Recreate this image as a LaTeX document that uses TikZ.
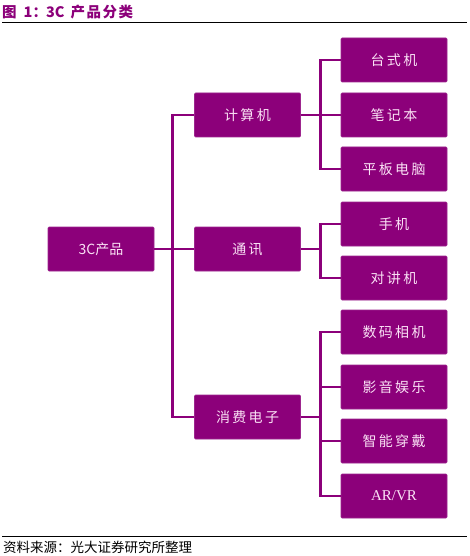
\documentclass[tikz,border=0pt]{standalone}
\usepackage{fontspec}
\setmainfont{Liberation Serif}
\newfontfamily\cjk{Noto Sans CJK SC}
\definecolor{gdpurple}{RGB}{140,0,122}
\definecolor{boxtext}{RGB}{250,225,245}
\begin{document}
\begin{tikzpicture}[x=1pt,y=-1pt,
  box/.style={draw=gdpurple!85,fill=gdpurple,line width=0.6pt,rounded corners=1pt,
    minimum width=106pt,minimum height=44pt,inner sep=0pt,
    text=boxtext,font=\cjk\fontsize{14}{16}\selectfont},
  conn/.style={draw=gdpurple,line width=2.6pt}]
\useasboundingbox[fill=white] (0,0) rectangle (469,556);
% title
\node[anchor=west,text=gdpurple,font=\cjk\bfseries\fontsize{14.5}{16}\selectfont,inner sep=0pt] (title) at (2,12) {图\hspace{7pt}1：\hspace{-1pt}3C\hspace{6pt}产\hspace{1.5pt}品\hspace{1.5pt}分\hspace{1.5pt}类};
\draw[line width=1pt] (2,23) -- (467,23);
% boxes
\node[box] (root) at (101,249) {3C产品};
\node[box] (m1) at (247.5,115) {计\,算\,机};
\node[box] (m2) at (247.5,249) {通\,讯};
\node[box] (m3) at (247.5,417) {消\,费\,电\,子};
\node[box] (l1) at (394,60) {台\,式\,机};
\node[box] (l2) at (394,115) {笔\,记\,本};
\node[box] (l3) at (394,169) {平\,板\,电\,脑};
\node[box] (l4) at (394,224) {手\,机};
\node[box] (l5) at (394,278) {对\,讲\,机};
\node[box] (l6) at (394,332) {数\,码\,相\,机};
\node[box] (l7) at (394,387) {影\,音\,娱\,乐};
\node[box] (l8) at (394,441) {智\,能\,穿\,戴};
\node[box,font=\fontsize{15}{17}\selectfont] (l9) at (394,496) {AR/VR};
% connectors level 1
\draw[conn] (root.east) -- (m2.west);
\draw[conn] (m1.west) -- ++(-22,0) |- (m3.west);
% connectors level 2
\draw[conn] (m1.east) -- (l2.west);
\draw[conn] (l1.west) -- ++(-20,0) |- (l3.west);
\draw[conn] (m2.east) -- ++(20,0) coordinate (j2);
\draw[conn] (l4.west) -- ++(-20,0) |- (l5.west);
\draw[conn] (m3.east) -- ++(20,0) coordinate (j3);
\draw[conn] (l6.west) -- ++(-20,0) |- (l9.west);
\draw[conn] (l7.west) -- ++(-20,0);
\draw[conn] (l8.west) -- ++(-20,0);
% source
\draw[line width=1pt] (2,536) -- (467,536);
\node[anchor=west,font=\cjk\fontsize{13.5}{15}\selectfont,inner sep=0pt] (src) at (3,547) {资料来源：光大证券研究所整理};
\end{tikzpicture}
\end{document}
